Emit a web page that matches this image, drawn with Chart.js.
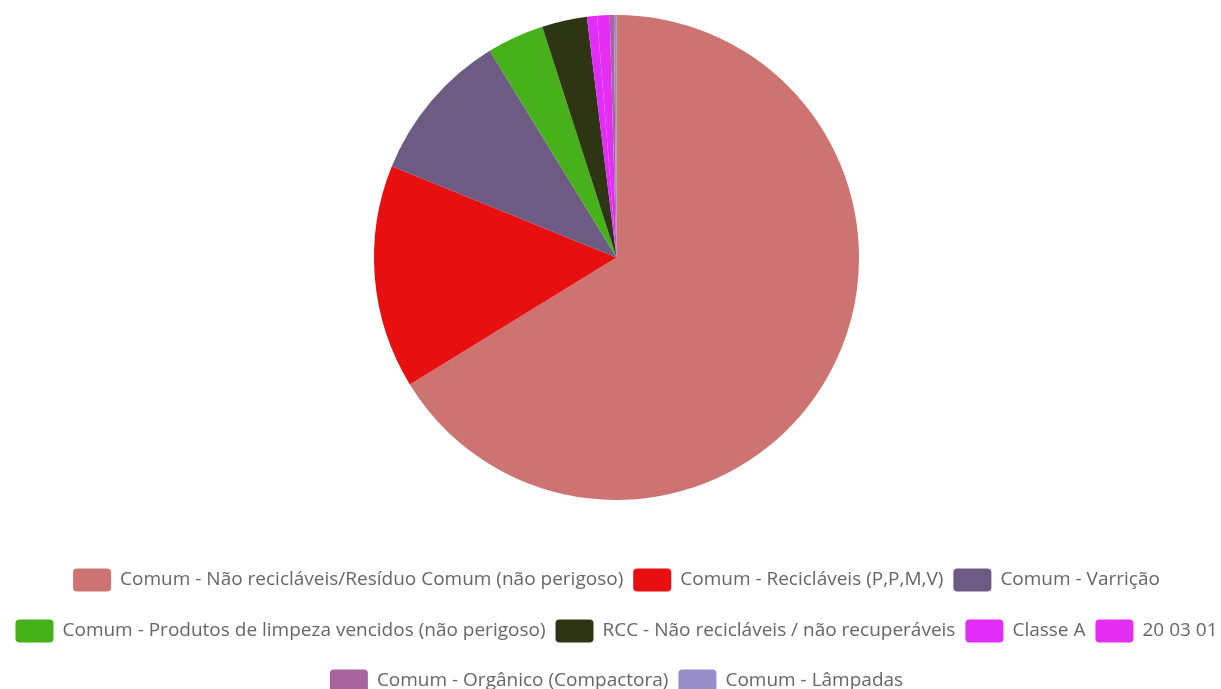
<!DOCTYPE html>
<html>
<head>
<meta charset="utf-8">
<script src="https://cdn.jsdelivr.net/npm/chart.js@4.4.1/dist/chart.umd.min.js"></script>
<style>
  html, body { margin: 0; padding: 0; background: #ffffff; }
  #wrap { width: 1221px; height: 689px; position: relative; }
</style>
</head>
<body>
<div id="wrap"><canvas id="c" width="1221" height="689"></canvas></div>
<script>
// ---- data ----
const categories = [
  "Comum - Não recicláveis/Resíduo Comum (não perigoso)",
  "Comum - Recicláveis (P,P,M,V)",
  "Comum - Varrição",
  "Comum - Produtos de limpeza vencidos (não perigoso)",
  "RCC - Não recicláveis / não recuperáveis",
  "Classe A",
  "20 03 01",
  "Comum - Orgânico (Compactora)",
  "Comum - Lâmpadas"
];
const values = [66.2, 14.9, 10.1, 3.8, 3.0, 0.67, 0.83, 0.28, 0.17];
// ---- styles ----
const colors = ["#cd7371", "#e80f10", "#6e5b83", "#47b11b", "#2d3513", "#e22cf7", "#e52ef4", "#a8649f", "#968dc9"];
const legendRows = [3, 4, 2];

const FONT_SIZE = 19;
const FONT_FAMILY = '"Open Sans", "Noto Sans", sans-serif';
const BOX_W = 38, BOX_H = 23, BOX_R = 4, TEXT_GAP = 9, ITEM_GAP = 10;
const LEGEND_CX = 616.5;
const ROW_Y = [580, 631, 681];

const bottomLegend = {
  id: 'bottomLegend',
  afterDraw(chart) {
    const ctx = chart.ctx;
    const labels = chart.data.labels;
    const bg = chart.data.datasets[0].backgroundColor;
    ctx.save();
    ctx.font = FONT_SIZE + 'px ' + FONT_FAMILY;
    ctx.textBaseline = 'middle';
    ctx.textAlign = 'left';
    let idx = 0;
    legendRows.forEach((n, r) => {
      const items = [];
      for (let k = 0; k < n; k++) {
        const i = idx + k;
        const tw = ctx.measureText(labels[i]).width;
        items.push({ i, tw, w: BOX_W + TEXT_GAP + tw });
      }
      const rowW = items.reduce((s, it) => s + it.w, 0) + ITEM_GAP * (n - 1);
      let x = LEGEND_CX - rowW / 2;
      const cy = ROW_Y[r];
      items.forEach(it => {
        ctx.fillStyle = bg[it.i];
        ctx.beginPath();
        ctx.roundRect(x, cy - BOX_H / 2, BOX_W, BOX_H, BOX_R);
        ctx.fill();
        ctx.fillStyle = '#666666';
        ctx.fillText(labels[it.i], x + BOX_W + TEXT_GAP, cy);
        x += it.w + ITEM_GAP;
      });
      idx += n;
    });
    ctx.restore();
  }
};

new Chart(document.getElementById('c'), {
  type: 'pie',
  data: {
    labels: categories,
    datasets: [{
      data: values,
      backgroundColor: colors,
      borderWidth: 0,
      hoverOffset: 0
    }]
  },
  options: {
    responsive: false,
    animation: false,
    layout: { padding: { top: 15, bottom: 189, left: 12, right: 0 } },
    plugins: {
      legend: { display: false },
      tooltip: { enabled: false }
    }
  },
  plugins: [bottomLegend]
});
</script>
</body>
</html>
